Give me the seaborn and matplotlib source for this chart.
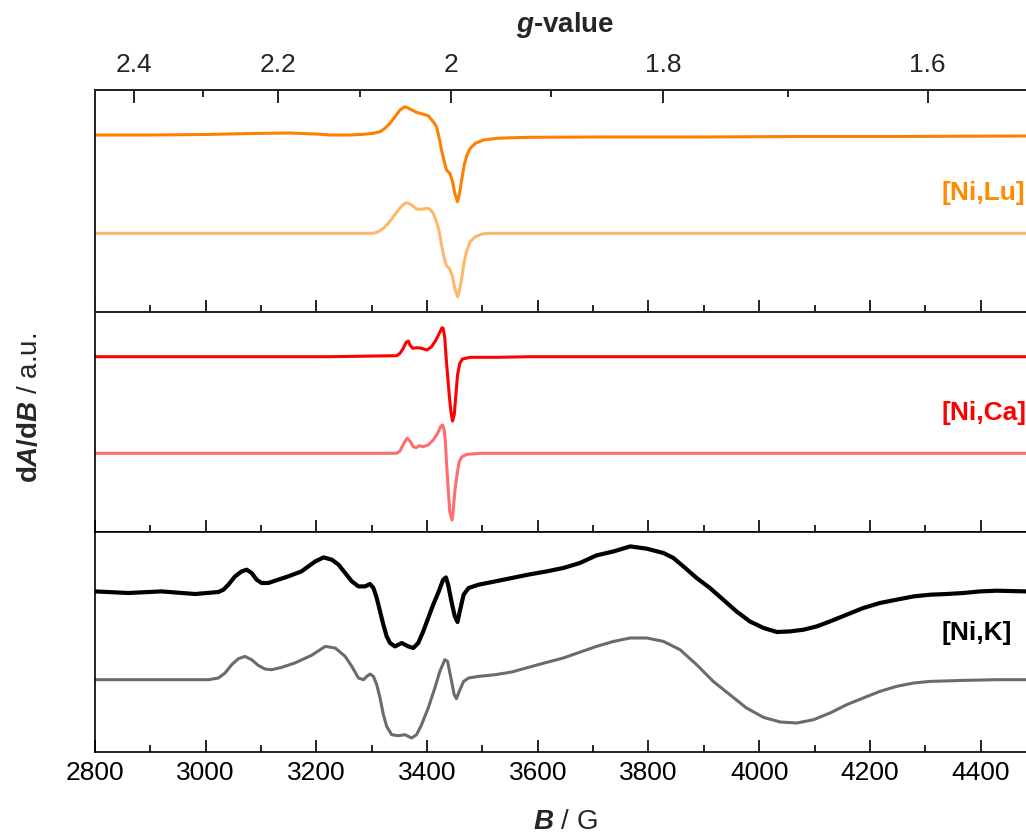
import numpy as np
import pandas as pd
import matplotlib
matplotlib.use("Agg")
import matplotlib.pyplot as plt
import seaborn as sns
from matplotlib.ticker import MultipleLocator, FixedLocator, NullFormatter

# ---------------- data ----------------
# magnetic field (G) and derivative signal (a.u., panel units)
lu_exp_B = [2800, 2900, 3000, 3080, 3150, 3200, 3225, 3261, 3285, 3303, 3315, 3324, 3333, 3342,
            3351, 3360, 3369, 3381, 3393, 3402, 3411, 3417, 3422, 3426, 3431, 3435, 3441, 3446,
            3450, 3455, 3458, 3463, 3467, 3472, 3478, 3487, 3502, 3526, 3556, 3586, 3712,
            3893, 4074, 4254, 4482]
lu_exp_y = [177, 177, 177.5, 178.5, 179, 178, 177, 177, 177.7, 178.7, 180.3, 183.7, 188.7, 195.3,
            202, 205.3, 203, 199.7, 197.7, 196.3, 190.3, 185.3, 173.7, 162, 150.3, 142, 138.7, 130.3,
            118.7, 110.3, 117, 133.7, 147, 157, 163.7, 168.7, 172, 173.7, 174.3, 174.7, 175,
            175, 175.5, 175.5, 176]

lu_sim_B = [2800, 3225, 3303, 3312, 3321, 3330, 3339, 3348, 3357, 3364, 3372, 3381, 3390, 3399,
            3405, 3411, 3417, 3422, 3426, 3431, 3435, 3441, 3446, 3450, 3455, 3458, 3463, 3467,
            3472, 3478, 3487, 3499, 3514, 4482]
lu_sim_y = [78.7, 78.7, 78.7, 80.3, 83.7, 88.7, 95.3, 102, 107.7, 109.3, 107, 103, 102.7, 103.7,
            103, 98.7, 90.3, 80.3, 67, 53.7, 46.3, 43, 35.3, 23.7, 15.3, 20.3, 35.3, 50.3,
            62, 70.3, 75.3, 78, 78.7, 78.7]

ca_exp_B = [2800, 3225, 3345, 3351, 3357, 3362, 3366, 3369, 3374, 3381, 3390, 3400, 3408, 3416,
            3422, 3427, 3429, 3432, 3434, 3437, 3440, 3443, 3446, 3449, 3452, 3455, 3459, 3464,
            3478, 3526, 3586, 4482]
ca_exp_y = [175.3, 175.3, 176.3, 178.7, 183.7, 189.7, 191, 187, 183.7, 184.3, 183.7, 182, 185.3, 192,
            198.7, 204.3, 203.7, 193.7, 177, 157, 137, 120.3, 111, 117, 137, 157, 168.7, 173,
            174.7, 174.7, 175.3, 175.3]

ca_sim_B = [2800, 3225, 3345, 3351, 3358, 3364, 3369, 3375, 3380, 3386, 3393, 3402, 3411, 3419,
            3425, 3428, 3431, 3433, 3435, 3438, 3441, 3445, 3447, 3450, 3454, 3458, 3463, 3472,
            3496, 4482]
ca_sim_y = [78.7, 78.7, 78.7, 81, 88.7, 93.7, 91, 85.3, 84.3, 86.3, 85.3, 87, 92, 98.7,
            106, 107, 102, 90.3, 70.3, 43.7, 20.3, 12, 20.3, 40.3, 57, 70.3, 75.3, 77.7,
            78.7, 78.7]

k_exp_B = [2800, 2860, 2920, 2981, 3023, 3032, 3041, 3053, 3065, 3074, 3083, 3092, 3101, 3113,
           3131, 3149, 3173, 3198, 3213, 3228, 3240, 3252, 3264, 3276, 3288, 3297, 3303, 3309,
           3315, 3321, 3327, 3333, 3342, 3354, 3366, 3375, 3384, 3393, 3402, 3411, 3420, 3429,
           3434, 3438, 3444, 3450, 3455, 3459, 3466, 3475, 3493, 3523, 3553, 3585, 3616, 3646,
           3676, 3706, 3737, 3767, 3797, 3827, 3845, 3863, 3887, 3911, 3935, 3959, 3983, 4008,
           4032, 4056, 4080, 4104, 4128, 4158, 4188, 4218, 4248, 4279, 4309, 4339, 4369, 4399,
           4429, 4482]
k_exp_y = [160.3, 158.7, 160.3, 157.7, 159.7, 162, 167, 175.3, 180.3, 182, 178.7, 172, 168.7, 168.7,
           172, 175.3, 180.3, 190.3, 194.3, 192, 187, 178.7, 170.3, 165.3, 165.3, 167.7, 163.7, 153.7,
           140.3, 127, 115.3, 108.7, 105.3, 108.7, 105.3, 103.7, 108.7, 120.3, 133.7, 147, 158.7, 172,
           174.3, 167, 150.3, 135.3, 129.7, 140.3, 157, 163.7, 167, 170.3, 173.7, 177.3, 180.3, 183.7,
           188.7, 196.3, 200.3, 205.3, 203, 198.7, 193.7, 185.3, 173.7, 163.7, 152, 140.3, 130.3, 123.7,
           119.7, 120.3, 122, 125.3, 130.3, 137, 143.7, 148.7, 152, 155.3, 157, 157.7, 158.7, 160.3,
           161, 160.3]

k_sim_B = [2800, 3005, 3023, 3035, 3047, 3059, 3071, 3083, 3095, 3107, 3119, 3137, 3161, 3191,
           3216, 3234, 3252, 3264, 3276, 3285, 3291, 3297, 3303, 3309, 3315, 3321, 3327, 3336,
           3348, 3360, 3372, 3381, 3390, 3402, 3414, 3423, 3432, 3437, 3443, 3449, 3453, 3458,
           3466, 3475, 3493, 3523, 3553, 3584, 3616, 3646, 3676, 3706, 3737, 3767, 3797, 3827,
           3857, 3887, 3917, 3947, 3977, 4008, 4038, 4068, 4098, 4128, 4158, 4188, 4218, 4248,
           4279, 4309, 4369, 4429, 4482]
k_sim_y = [72, 72, 73.7, 78.7, 87, 93, 95.3, 92, 86.3, 82.7, 82, 84.3, 88.7, 96.3,
           105.3, 103.7, 95.3, 85.3, 73.7, 72, 75.3, 77.7, 75.3, 67, 53.7, 37, 25.3, 17,
           16, 17, 13.7, 17, 27, 43.7, 63.7, 80.3, 92, 90.3, 73.7, 57, 53, 60.3,
           70.3, 73.7, 75.3, 77, 79.7, 84.5, 89.3, 93.7, 99.5, 105.3, 110.3, 113.7, 113.7, 110.3,
           102, 87, 70.3, 57, 43.7, 34.3, 29.7, 28.7, 32, 38.7, 47, 53.7, 60.3, 65.3,
           68.7, 70.3, 71.3, 72, 72]

labels = ["[Ni,Lu]", "[Ni,Ca]", "[Ni,K]"]
label_colors = ["#FF8C00", "#FF0000", "#000000"]
exp_colors = ["#FF8000", "#FF0000", "#000000"]
sim_colors = ["#FFB86B", "#FF6E6E", "#6B6B6B"]

g_major = [2.4, 2.2, 2.0, 1.8, 1.6]
g_major_labels = ["2.4", "2.2", "2", "1.8", "1.6"]
g_minor = [2.3, 2.1, 1.9, 1.7]
g_factor = 6887.0  # h*nu/muB in G

B_ticks = [2800, 3000, 3200, 3400, 3600, 3800, 4000, 4200, 4400]

# ---------------- style ----------------
sns.set_theme(style="ticks")
plt.rcParams["font.family"] = ["Liberation Sans", "DejaVu Sans"]
plt.rcParams["mathtext.fontset"] = "custom"
plt.rcParams["mathtext.rm"] = "Liberation Sans"
plt.rcParams["mathtext.bf"] = "Liberation Sans:bold"
plt.rcParams["mathtext.it"] = "Liberation Sans:italic"
plt.rcParams["mathtext.bfit"] = "Liberation Sans:bold:italic"

W, H = 1026, 838
fig = plt.figure(figsize=(W / 100, H / 100), dpi=100)

panels_px = [(90, 312), (312, 532), (532, 751.7)]
left_px = 95
xmin, xmax = 2800, 2800 + (W - left_px) * 1.8067

series = [
    (lu_exp_B, lu_exp_y, lu_sim_B, lu_sim_y),
    (ca_exp_B, ca_exp_y, ca_sim_B, ca_sim_y),
    (k_exp_B, k_exp_y, k_sim_B, k_sim_y),
]
exp_lw = [2.2, 2.2, 3.0]

axes = []
for i, ((top, bot), (eB, ey, sB, sy)) in enumerate(zip(panels_px, series)):
    ax = fig.add_axes([left_px / W, (H - bot) / H, 1 - left_px / W, (bot - top) / H])
    axes.append(ax)
    sns.lineplot(x=sB, y=sy, ax=ax, color=sim_colors[i], lw=2.2, estimator=None)
    sns.lineplot(x=eB, y=ey, ax=ax, color=exp_colors[i], lw=exp_lw[i], estimator=None)
    ax.set_xlim(xmin, xmax)
    ax.set_ylim(0, bot - top)
    ax.set_yticks([])
    ax.set_ylabel("")
    ax.set_xlabel("")
    for s in ["left", "bottom", "top"]:
        ax.spines[s].set_linewidth(1.2)
        ax.spines[s].set_color("black")
    ax.spines["right"].set_visible(False)
    ax.xaxis.set_major_locator(FixedLocator(B_ticks))
    ax.xaxis.set_minor_locator(MultipleLocator(100))
    ax.tick_params(axis="x", which="major", direction="in", length=9, width=1.2,
                   color="black", labelsize=19, pad=7, labelcolor="black")
    ax.tick_params(axis="x", which="minor", direction="in", length=5, width=1.2, color="black")
    if i < 2:
        ax.tick_params(axis="x", labelbottom=False)
    ax.text(4330, 119, labels[i], color=label_colors[i], fontsize=19, fontweight="bold",
            ha="left", va="center")
    ax.set_facecolor("white")

axes[2].set_xticklabels([str(b) for b in B_ticks])

# top g-value axis
axg = axes[0].twiny()
axg.set_xlim(xmin, xmax)
axg.xaxis.set_major_locator(FixedLocator([g_factor / g for g in g_major]))
axg.xaxis.set_minor_locator(FixedLocator([g_factor / g for g in g_minor]))
axg.set_xticklabels(g_major_labels)
axg.xaxis.set_minor_formatter(NullFormatter())
axg.tick_params(axis="x", which="major", direction="in", length=9, width=1.2,
                color="black", labelsize=19, pad=9)
axg.tick_params(axis="x", which="minor", direction="in", length=5, width=1.2, color="black")
axg.spines["right"].set_visible(False)
axg.spines["top"].set_linewidth(1.2)

fig.text(565 / W, 1 - 25 / H, r"$\mathbfit{g}$-value", ha="center", va="center",
         fontsize=20, fontweight="bold")
fig.text(565 / W, 1 - 822 / H, r"$\mathbfit{B}$ / G", ha="center", va="center", fontsize=20)
fig.text(30 / W, 1 - 408 / H, r"$\mathbf{d}\mathbfit{A}\mathbf{/d}\mathbfit{B}$ / a.u.",
         ha="center", va="center", rotation=90, fontsize=20)

fig.savefig("out.png", dpi=100, facecolor="white")
